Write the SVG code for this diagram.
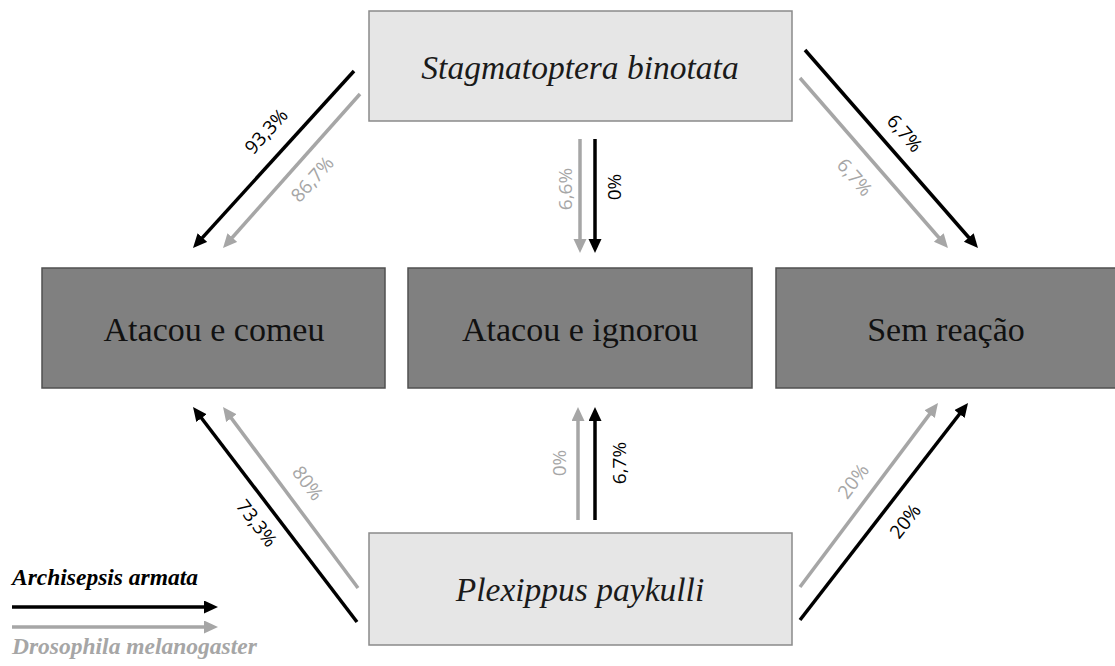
<svg xmlns="http://www.w3.org/2000/svg" width="1115" height="666" viewBox="0 0 1115 666">
<style>
.light{fill:#e6e6e6;stroke:#8a8a8a;stroke-width:1.5}
.dark{fill:#808080;stroke:#505050;stroke-width:1.5}
.sp{font-family:"Liberation Serif","Times New Roman",serif;font-style:italic;font-size:33.5px;fill:#1a1a1a;text-anchor:middle}
.cat{font-family:"Liberation Serif","Times New Roman",serif;font-size:34px;fill:#111;text-anchor:middle}
.pct{font-family:"Open Sans","Liberation Sans",sans-serif;font-size:19px;text-anchor:middle}
.pb{fill:#000}
.pg{fill:#a6a6a6}
.ab{stroke:#000;stroke-width:3.5;fill:none;marker-end:url(#hb)}
.ag{stroke:#a6a6a6;stroke-width:3.5;fill:none;marker-end:url(#hg)}
.leg{font-family:"Liberation Serif","Times New Roman",serif;font-style:italic;font-weight:bold;font-size:23.5px}
</style>
<defs>
<marker id="hb" markerUnits="userSpaceOnUse" markerWidth="16" markerHeight="14" refX="2" refY="6.5" orient="auto"><path d="M0,0 L14,6.5 L0,13 z" fill="#000"/></marker>
<marker id="hg" markerUnits="userSpaceOnUse" markerWidth="16" markerHeight="14" refX="2" refY="6.5" orient="auto"><path d="M0,0 L14,6.5 L0,13 z" fill="#a6a6a6"/></marker>
</defs>
<rect width="1115" height="666" fill="#fff"/>
<g id="node-stagmatoptera"><rect class="light" x="369" y="11" width="423" height="110"/><text class="sp" x="580" y="79">Stagmatoptera binotata</text></g>
<g id="node-atacou-comeu"><rect class="dark" x="42" y="268" width="343" height="120"/><text class="cat" x="214" y="341">Atacou e comeu</text></g>
<g id="node-atacou-ignorou"><rect class="dark" x="408" y="268" width="344" height="120"/><text class="cat" x="580" y="341">Atacou e ignorou</text></g>
<g id="node-sem-reacao"><rect class="dark" x="776" y="268" width="345" height="120"/><text class="cat" x="946" y="341">Sem reação</text></g>
<g id="node-plexippus"><rect class="light" x="369" y="533" width="423" height="112"/><text class="sp" x="580" y="601">Plexippus paykulli</text></g>
<g id="connectors">
<line class="ab" x1="354" y1="71" x2="201.1" y2="239.1"/>
<line class="ag" x1="360" y1="94" x2="231" y2="239"/>
<line class="ag" x1="580" y1="139" x2="580" y2="241"/>
<line class="ab" x1="595" y1="139" x2="595" y2="241"/>
<line class="ab" x1="805" y1="50" x2="970.1" y2="239"/>
<line class="ag" x1="800" y1="78" x2="940.1" y2="239"/>
<line class="ab" x1="357" y1="622" x2="200.3" y2="416.5"/>
<line class="ag" x1="358" y1="588" x2="230.2" y2="416.6"/>
<line class="ag" x1="578" y1="520" x2="578" y2="419"/>
<line class="ab" x1="595" y1="520" x2="595" y2="419"/>
<line class="ag" x1="800" y1="587" x2="930.8" y2="412.6"/>
<line class="ab" x1="800" y1="620" x2="960.7" y2="412.5"/>
<text class="pct pb" transform="translate(266,131) rotate(-47.7)" y="7">93,3%</text>
<text class="pct pg" transform="translate(312,179) rotate(-48)" y="7">86,7%</text>
<text class="pct pg" transform="translate(565,189) rotate(-90)" y="7">6,6%</text>
<text class="pct pb" transform="translate(614,187) rotate(-90)" y="7">0%</text>
<text class="pct pb" transform="translate(905,133) rotate(49)" y="7">6,7%</text>
<text class="pct pg" transform="translate(855,177) rotate(49)" y="7">6,7%</text>
<text class="pct pb" transform="translate(257,523) rotate(52.7)" y="7">73,3%</text>
<text class="pct pg" transform="translate(308,483) rotate(53)" y="7">80%</text>
<text class="pct pg" transform="translate(559,463) rotate(-90)" y="7">0%</text>
<text class="pct pb" transform="translate(619,463) rotate(-90)" y="7">6,7%</text>
<text class="pct pg" transform="translate(853,481) rotate(-53)" y="7">20%</text>
<text class="pct pb" transform="translate(905,521) rotate(-52)" y="7">20%</text>
</g>
<g id="legend">
<text class="leg" x="12" y="585" fill="#000">Archisepsis armata</text>
<line class="ab" x1="12" y1="607" x2="206" y2="607"/>
<line class="ag" x1="12" y1="627" x2="206" y2="627"/>
<text class="leg" x="12" y="654" fill="#a6a6a6">Drosophila melanogaster</text>
</g>
</svg>
